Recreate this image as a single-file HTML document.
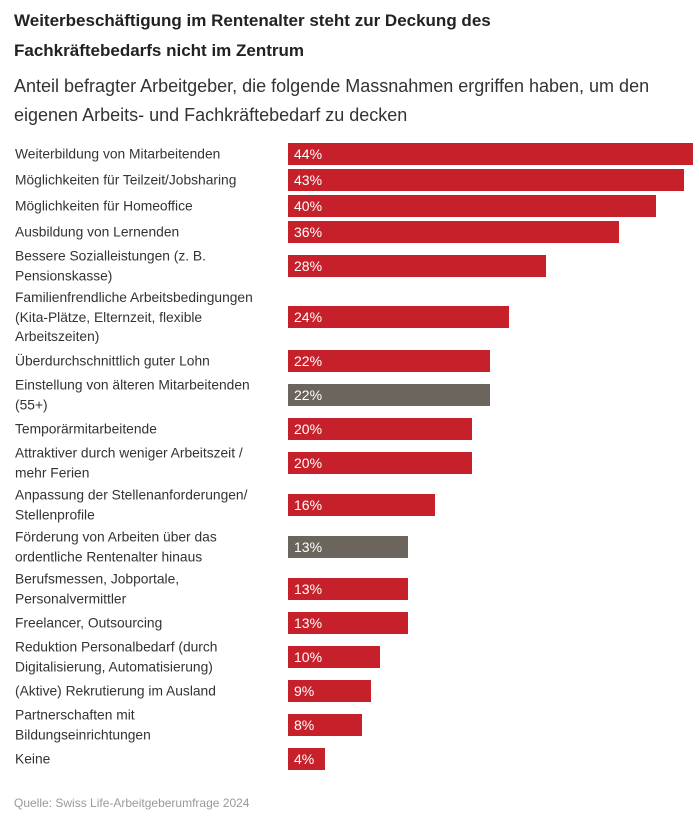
<!DOCTYPE html>
<html><head><meta charset="utf-8"><style>
body{margin:0;width:699px;height:820px;background:#fff;font-family:"Liberation Sans",sans-serif;color:#333;position:relative;overflow:hidden}
.t{position:absolute;left:14px;font-weight:bold;font-size:17px;color:#222}
.s{position:absolute;left:14px;font-size:18px;color:#333;line-height:29px;top:72px;width:690px}
.lab{position:absolute;left:15px;font-size:13.8px;line-height:19.5px;width:275px;transform:translateY(-50%)}
.bar{position:absolute;height:22px;color:#fff;font-size:14px;line-height:22px;box-sizing:border-box;padding-left:6px}
.src{position:absolute;left:14px;top:796px;font-size:12px;color:#999}
</style></head><body>
<div class="t" style="top:11px">Weiterbeschäftigung im Rentenalter steht zur Deckung des</div>
<div class="t" style="top:41px">Fachkräftebedarfs nicht im Zentrum</div>
<div class="s">Anteil befragter Arbeitgeber, die folgende Massnahmen ergriffen haben, um den eigenen Arbeits- und Fachkräftebedarf zu decken</div>
<div id="chart"></div>
<div class="src">Quelle: Swiss Life-Arbeitgeberumfrage 2024</div>
<script>
const categories=["Weiterbildung von Mitarbeitenden","Möglichkeiten für Teilzeit/Jobsharing","Möglichkeiten für Homeoffice","Ausbildung von Lernenden","Bessere Sozialleistungen (z. B.<br>Pensionskasse)","Familienfrendliche Arbeitsbedingungen<br>(Kita-Plätze, Elternzeit, flexible<br>Arbeitszeiten)","Überdurchschnittlich guter Lohn","Einstellung von älteren Mitarbeitenden<br>(55+)","Temporärmitarbeitende","Attraktiver durch weniger Arbeitszeit /<br>mehr Ferien","Anpassung der Stellenanforderungen/<br>Stellenprofile","Förderung von Arbeiten über das<br>ordentliche Rentenalter hinaus","Berufsmessen, Jobportale,<br>Personalvermittler","Freelancer, Outsourcing","Reduktion Personalbedarf (durch<br>Digitalisierung, Automatisierung)","(Aktive) Rekrutierung im Ausland","Partnerschaften mit<br>Bildungseinrichtungen","Keine"];
const values=[44,43,40,36,28,24,22,22,20,20,16,13,13,13,10,9,8,4];
const highlighted=[false,false,false,false,false,false,false,true,false,false,false,true,false,false,false,false,false,false];
const x0=288,pxPer=9.2;
function xs(v){return v*pxPer;}
const chart=document.getElementById('chart');
let y=143;
categories.forEach((c,i)=>{
  const lines=c.split('<br>').length;
  const rowH=lines===1?26:(lines===2?34:52);
  if(lines>1&&i>0)y+=(lines===2?8:17)-0;
  const cy=y+11;
  const l=document.createElement('div');
  
  
  l.className='lab';l.style.top=cy+'px';l.innerHTML=c;chart.appendChild(l);
  const b=document.createElement('div');
  
  
  b.className='bar';b.style.left=x0+'px';b.style.top=y+'px';b.style.width=xs(values[i])+'px';
  b.style.background=highlighted[i]?'#6b655e':'#c6212b';
  b.textContent=values[i]+'%';chart.appendChild(b);
  y+=26+(lines===2?8:(lines===3?18:0));
});
</script>
</body></html>
